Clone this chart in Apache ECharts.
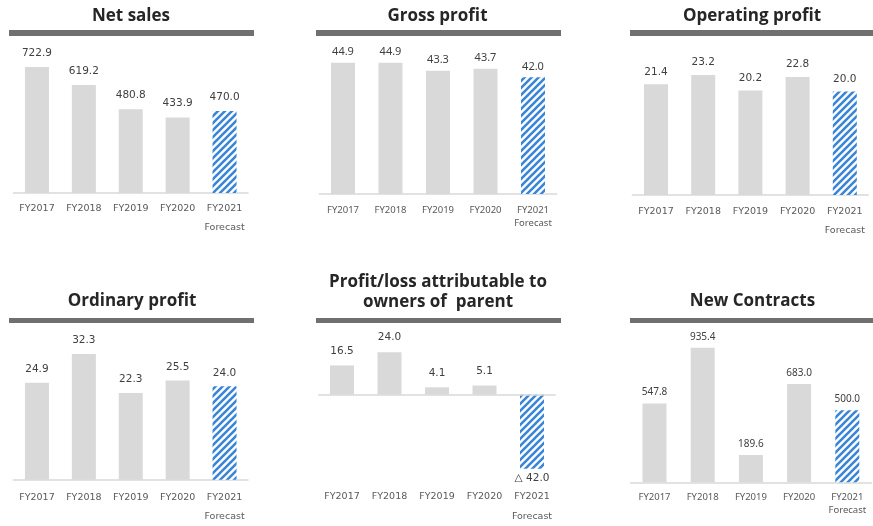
<!DOCTYPE html>
<html>
<head>
<meta charset="utf-8">
<script src="https://cdn.jsdelivr.net/npm/echarts@6/dist/echarts.min.js"></script>
<style>
  html, body { margin: 0; padding: 0; background: #fff; }
  #chart { width: 873px; height: 526px; }
</style>
</head>
<body>
<div id="chart"></div>
<script>
// values in 100 million yen
const categories = ['FY2017', 'FY2018', 'FY2019', 'FY2020', 'FY2021\nForecast'];
const netSales = [722.9, 619.2, 480.8, 433.9, 470.0];
const grossProfit = [44.9, 44.9, 43.3, 43.7, 42.0];
const operatingProfit = [21.4, 23.2, 20.2, 22.8, 20.0];
const ordinaryProfit = [24.9, 32.3, 22.3, 25.5, 24.0];
const parentProfit = [16.5, 24.0, 4.1, 5.1, -42.0];
const newContracts = [547.8, 935.4, 189.6, 683.0, 500.0];
const titles = ['Net sales', 'Gross profit', 'Operating profit', 'Ordinary profit',
    'Profit/loss attributable to\nowners of  parent', 'New Contracts'];

const wide = '"DejaVu Sans", Verdana, sans-serif';
const narrow = '"Noto Sans", "Open Sans", sans-serif';

// blue diagonal hatch for the forecast bars
function makeHatch() {
    const s = 7;
    const c = document.createElement('canvas');
    c.width = s;
    c.height = s;
    const ctx = c.getContext('2d');
    ctx.fillStyle = '#ffffff';
    ctx.fillRect(0, 0, s, s);
    ctx.strokeStyle = '#3a86d6';
    ctx.lineWidth = 2.6;
    ctx.beginPath();
    ctx.moveTo(0, s); ctx.lineTo(s, 0);
    ctx.moveTo(-1, 1); ctx.lineTo(1, -1);
    ctx.moveTo(s - 1, s + 1); ctx.lineTo(s + 1, s - 1);
    ctx.stroke();
    return c;
}
const hatch = {image: makeHatch(), repeat: 'repeat'};

// panel layout: grid box, axis range, fonts and label spacing
const panels = [
    {data: netSales, left: 13.5, width: 234.5, top: 53.6, height: 139.4, min: 0, max: 800,
        font: wide, valSize: 10.5, dist: 8.5, lh: 19, margin: 6.5, tx: 131, ty: 16, bar: [9, 30, 245, 6]},
    {data: grossProfit, left: 319.25, width: 237.5, top: 57.2, height: 136.8, min: 18.8, max: 46,
        font: narrow, valSize: 11, dist: 5, lh: 13, margin: 9.5, tx: 437.5, ty: 16, bar: [316, 30, 245, 6]},
    {data: operatingProfit, left: 632.4, width: 236, top: 39.9, height: 155.1, min: 0, max: 30,
        font: wide, valSize: 10.5, dist: 7, lh: 19, margin: 7.5, tx: 752, ty: 16, bar: [630, 30, 243, 6]},
    {data: ordinaryProfit, left: 13.5, width: 234.5, top: 324, height: 156, min: 0, max: 40,
        font: wide, valSize: 10.5, dist: 8, lh: 19, margin: 8.2, tx: 132, ty: 301, bar: [9, 318, 245, 5]},
    {data: parentProfit, left: 318.25, width: 237.5, top: 341.6, height: 141.6, min: -50, max: 30,
        font: wide, valSize: 10.5, dist: 9, lh: 19.4, margin: 4.4, tx: 438, ty: 292, bar: [316, 318, 245, 5]},
    {data: newContracts, left: 630.4, width: 241, top: 338.4, height: 143.9, min: 0, max: 1000,
        font: narrow, valSize: 10, dist: 6, lh: 12.5, margin: 9, tx: 752.5, ty: 301, bar: [630, 318, 243, 5]}
];

const grids = [], xAxes = [], yAxes = [], series = [], graphics = [];

panels.forEach((p, i) => {
    grids.push({left: p.left, top: p.top, width: p.width, height: p.height, containLabel: false});
    xAxes.push({
        type: 'category', gridIndex: i, data: categories,
        axisLine: {show: i !== 4, onZero: false, lineStyle: {color: '#d9d9d9', width: 1.5}},
        axisTick: {show: false},
        axisLabel: {color: '#595959', fontFamily: p.font, fontSize: 9.5, lineHeight: p.lh, margin: p.margin, interval: 0}
    });
    yAxes.push({type: 'value', gridIndex: i, min: p.min, max: p.max, show: false, splitLine: {show: false}});
    const last = p.data.length - 1;
    series.push({
        type: 'bar', xAxisIndex: i, yAxisIndex: i, barWidth: 24, clip: true,
        itemStyle: {color: '#d9d9d9'},
        label: {
            show: true, position: 'top', distance: p.dist, color: '#404040',
            fontFamily: p.font, fontSize: p.valSize,
            formatter: d => d.value < 0 ? '\u25b3 ' + Math.abs(d.value).toFixed(1) : d.value.toFixed(1)
        },
        data: p.data.map((v, j) => {
            if (j !== last) return v;
            const item = {value: v, itemStyle: {color: hatch}};
            if (v < 0) item.label = {position: 'bottom', distance: 4};
            return item;
        }),
        markLine: i === 4 ? {
            silent: true, symbol: 'none', label: {show: false},
            lineStyle: {color: '#d9d9d9', type: 'solid', width: 1.5},
            data: [{yAxis: 0}]
        } : undefined
    });
    graphics.push({
        type: 'rect', shape: {x: p.bar[0], y: p.bar[1], width: p.bar[2], height: p.bar[3]},
        style: {fill: '#707070'}
    });
    graphics.push({
        type: 'text', x: p.tx, y: p.ty,
        style: {
            text: titles[i], fill: '#262626', font: 'bold 17px "Open Sans", "Noto Sans", sans-serif',
            textAlign: 'center', textVerticalAlign: 'middle', lineHeight: 20
        }
    });
});

const chart = echarts.init(document.getElementById('chart'));
chart.setOption({
    animation: false,
    grid: grids,
    xAxis: xAxes,
    yAxis: yAxes,
    series: series,
    graphic: graphics
});
</script>
</body>
</html>
